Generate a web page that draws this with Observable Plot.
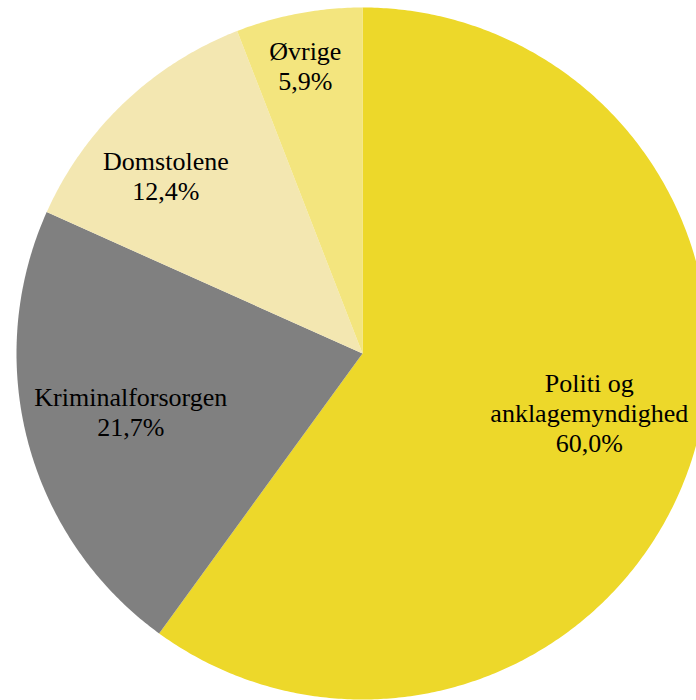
<!DOCTYPE html>
<html>
<head>
<meta charset="utf-8">
<script src="https://cdn.jsdelivr.net/npm/d3@7"></script>
<script src="https://cdn.jsdelivr.net/npm/@observablehq/plot@0.6"></script>
<style>
  html, body { margin: 0; padding: 0; background: #fff; overflow: hidden; }
  #chart svg { overflow: hidden; display: block; }
</style>
</head>
<body>
<div id="chart"></div>
<script>
// Data
const categories = ["Politi og anklagemyndighed", "Kriminalforsorgen", "Domstolene", "Øvrige"];
const labelLines = [["Politi og", "anklagemyndighed"], ["Kriminalforsorgen"], ["Domstolene"], ["Øvrige"]];
const shares = [60.0, 21.7, 12.4, 5.9];
const palette = ["#EDD82A", "#808080", "#F3E7B1", "#F3E57E"];

// Slice angles (clockwise from 12 o'clock)
const total = d3.sum(shares);
let acc = 0;
const slices = categories.map((name, i) => {
  const a0 = acc / total * 2 * Math.PI;
  acc += shares[i];
  const a1 = acc / total * 2 * Math.PI;
  return {name, i, a0, a1, mid: (a0 + a1) / 2};
});

// Polygon outlines of each slice in unit-circle coordinates
const outline = [];
for (const s of slices) {
  outline.push({name: s.name, x: 0, y: 0});
  const n = Math.max(2, Math.ceil((s.a1 - s.a0) / (Math.PI / 360)));
  for (let k = 0; k <= n; k++) {
    const a = s.a0 + (s.a1 - s.a0) * k / n;
    outline.push({name: s.name, x: Math.sin(a), y: Math.cos(a)});
  }
  outline.push({name: s.name, x: 0, y: 0});
}

// Label placement (styling)
const labelRadius = [0.68, 0.69, 0.77, 0.85];
const labelOffset = [[3, -14], [-1, -4], [-13, 15], [-3, 1]];
const fmt = v => v.toFixed(1).replace(".", ",") + "%";

const labelMarks = slices.map((s, i) => Plot.text([s], {
  x: d => labelRadius[i] * Math.sin(d.mid),
  y: d => labelRadius[i] * Math.cos(d.mid),
  text: d => [...labelLines[d.i], fmt(shares[d.i])].join("\n"),
  dx: labelOffset[i][0],
  dy: labelOffset[i][1],
  fill: "#000",
  fontSize: 26,
  fontFamily: "Liberation Serif",
  lineAnchor: "middle",
  lineHeight: 1.15,
  textAnchor: "middle"
}));

const chart = Plot.plot({
  width: 696,
  height: 700,
  margin: 0,
  x: {domain: [-1, 1], range: [16, 708], axis: null},
  y: {domain: [-1, 1], range: [699, 7], axis: null},
  color: {domain: categories, range: palette},
  style: {background: "#fff", overflow: "hidden"},
  marks: [
    Plot.line(outline, {
      x: "x", y: "y", z: "name",
      fill: "name",
      stroke: "none",
      curve: "linear"
    }),
    ...labelMarks
  ]
});
document.getElementById("chart").appendChild(chart);
</script>
</body>
</html>
